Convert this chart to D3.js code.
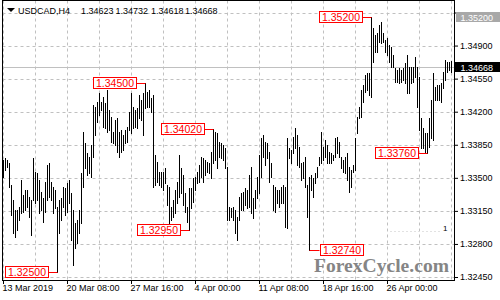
<!DOCTYPE html>
<html>
<head>
<meta charset="utf-8">
<script src="https://cdn.jsdelivr.net/npm/d3@7"></script>
<style>
body { margin: 0; background: #fff; }
svg { display: block; font-family: "Liberation Sans", Arial, sans-serif; }
</style>
</head>
<body>
<svg id="chart" width="500" height="300"></svg>
<script>
// data
const symbol = "USDCAD,H4"
const lastBar = [1.34623, 1.34732, 1.34618, 1.34668]  // O H L C

const highs = [
  1.3369,1.3371,1.3369,1.3366,1.3342,1.3327,1.3316,1.3316,1.3319,1.3348,
  1.3332,1.3337,1.3337,1.3330,1.3327,1.3371,1.3356,1.3355,1.3348,1.3335,
  1.3329,1.3346,1.3364,1.3366,1.3346,1.3340,1.3337,1.3319,1.3327,1.3329,
  1.3340,1.3339,1.3345,1.3348,1.3334,1.3316,1.3302,1.3305,1.3316,1.3355,
  1.3399,1.3387,1.3376,1.3372,1.3385,1.3427,1.3425,1.3430,1.3440,1.3430,
  1.3436,1.3429,1.3443,1.3422,1.3414,1.3399,1.3411,1.3413,1.3399,1.3401,
  1.3395,1.3401,1.3404,1.3420,1.3440,1.3425,1.3422,1.3424,1.3438,1.3432,
  1.3440,1.3450,1.3441,1.3443,1.3435,1.3438,1.3374,1.3367,1.3356,1.3356,
  1.3356,1.3360,1.3342,1.3340,1.3319,1.3327,1.3337,1.3346,1.3374,1.3360,
  1.3353,1.3334,1.3319,1.3339,1.3339,1.3350,1.3351,1.3356,1.3364,1.3372,
  1.3371,1.3369,1.3367,1.3366,1.3377,1.3402,1.3399,1.3397,1.3388,1.3387,
  1.3385,1.3382,1.3361,1.3319,1.3318,1.3319,1.3316,1.3309,1.3330,1.3334,
  1.3335,1.3339,1.3337,1.3353,1.3361,1.3329,1.3337,1.3351,1.3374,1.3392,
  1.3395,1.3388,1.3387,1.3377,1.3366,1.3342,1.3340,1.3337,1.3337,1.3340,
  1.3342,1.3340,1.3392,1.3382,1.3379,1.3393,1.3403,1.3395,1.3383,1.3366,
  1.3367,1.3372,1.3342,1.3351,1.3353,1.3350,1.3355,1.3361,1.3372,1.3399,
  1.3383,1.3390,1.3385,1.3377,1.3376,1.3374,1.3392,1.3393,1.3388,1.3372,
  1.3369,1.3372,1.3376,1.3361,1.3358,1.3364,1.3392,1.3414,1.3425,1.3443,
  1.3448,1.3459,1.3461,1.3461,1.3520,1.3509,1.3501,1.3503,1.3512,1.3515,
  1.3503,1.3496,1.3498,1.3491,1.3489,1.3480,1.3466,1.3464,1.3466,1.3464,
  1.3466,1.3472,1.3480,1.3467,1.3467,1.3467,1.3478,1.3467,1.3457,1.3413,
  1.3403,1.3397,1.3397,1.3413,1.3432,1.3461,1.3446,1.3448,1.3448,1.3450,
  1.3462,1.3475,1.3473,1.3473,1.34732
]
const lows = [
  1.3351,1.3358,1.3361,1.3340,1.3311,1.3292,1.3287,1.3295,1.3305,1.3313,
  1.3314,1.3316,1.3319,1.3309,1.3289,1.3327,1.3323,1.3327,1.3313,1.3316,
  1.3303,1.3314,1.3327,1.3330,1.3327,1.3313,1.3318,1.3250,1.3292,1.3305,
  1.3319,1.3311,1.3314,1.3323,1.3284,1.3258,1.3276,1.3281,1.3292,1.3302,
  1.3340,1.3360,1.3353,1.3355,1.3351,1.3372,1.3395,1.3409,1.3417,1.3422,
  1.3404,1.3403,1.3399,1.3401,1.3388,1.3387,1.3385,1.3377,1.3372,1.3377,
  1.3379,1.3387,1.3388,1.3401,1.3397,1.3403,1.3404,1.3403,1.3413,1.3411,
  1.3395,1.3424,1.3425,1.3425,1.3420,1.3340,1.3342,1.3346,1.3342,1.3340,
  1.3337,1.3345,1.3321,1.3302,1.3305,1.3309,1.3313,1.3323,1.3330,1.3334,
  1.3321,1.3314,1.3303,1.3295,1.3318,1.3324,1.3337,1.3345,1.3346,1.3351,
  1.3346,1.3353,1.3356,1.3355,1.3350,1.3366,1.3369,1.3360,1.3372,1.3371,
  1.3369,1.3360,1.3305,1.3305,1.3309,1.3305,1.3292,1.3284,1.3305,1.3316,
  1.3316,1.3321,1.3318,1.3319,1.3313,1.3307,1.3318,1.3329,1.3334,1.3351,
  1.3372,1.3364,1.3371,1.3346,1.3351,1.3316,1.3314,1.3323,1.3319,1.3323,
  1.3323,1.3298,1.3297,1.3371,1.3366,1.3376,1.3382,1.3364,1.3361,1.3348,
  1.3350,1.3340,1.3309,1.3274,1.3337,1.3330,1.3345,1.3351,1.3364,1.3366,
  1.3369,1.3372,1.3366,1.3366,1.3366,1.3369,1.3372,1.3376,1.3372,1.3360,
  1.3356,1.3355,1.3348,1.3335,1.3340,1.3356,1.3358,1.3397,1.3413,1.3414,
  1.3430,1.3441,1.3443,1.3438,1.3436,1.3473,1.3483,1.3483,1.3494,1.3493,
  1.3494,1.3483,1.3480,1.3473,1.3467,1.3467,1.3451,1.3451,1.3450,1.3451,
  1.3454,1.3450,1.3440,1.3440,1.3450,1.3451,1.3457,1.3425,1.3401,1.3382,
  1.3382,1.3377,1.3376,1.3383,1.3392,1.3390,1.3432,1.3432,1.3432,1.3430,
  1.3445,1.3454,1.3462,1.3464,1.34618
]

const xTickBars = [0, 32, 64, 96, 128, 160, 192]
const xLabels = ["13 Mar 2019", "20 Mar 08:00", "27 Mar 16:00", "4 Apr 00:00",
                 "11 Apr 08:00", "18 Apr 16:00", "26 Apr 00:00"]
const yTicks = [1.3245, 1.3280, 1.3315, 1.3350, 1.3385, 1.3420, 1.3455, 1.3490, 1.3525]

// swing highs / lows marked with red boxes
const markPrices = [1.3250, 1.3450, 1.3295, 1.3402, 1.3274, 1.3520, 1.3376]
const markBars   = [27, 71, 93, 105, 153, 184, 212]
const markSides  = ["left", "left", "left", "left", "right", "left", "left"]

const highlightPrice = 1.3520   // grey tag on the price scale (covers the top tick label)

// chart
const W = 500, H = 300
const plotL = 2.5, plotR = 454.5, plotT = 0.5, plotB = 280.5

let svg = d3.select("#chart")

let x = d3.scaleLinear().domain([0, highs.length - 1]).range([3, 3 + 2 * (highs.length - 1)])
let y = d3.scaleLinear().domain([1.3245, 1.3525]).range([277, 12.5])
const px = i => Math.round(x(i)) + 0.5
const py = p => Math.round(y(p)) + 0.5

svg.append("rect").attr("width", W).attr("height", H).attr("fill", "#fff")

// grid
let grid = svg.append("g").attr("stroke", "#c0c0c0").attr("stroke-dasharray", "3,3")
grid.selectAll("line.v")
    .data(d3.range(0, highs.length, 16))
    .enter().append("line").attr("class", "v")
    .attr("x1", px).attr("x2", px)
    .attr("y1", plotT).attr("y2", plotB)
grid.selectAll("line.h")
    .data(yTicks)
    .enter().append("line").attr("class", "h")
    .attr("x1", plotL).attr("x2", plotR)
    .attr("y1", py).attr("y2", py)

// last price line
svg.append("line")
    .attr("x1", plotL).attr("x2", plotR)
    .attr("y1", py(lastBar[3])).attr("y2", py(lastBar[3]))
    .attr("stroke", "#c0c0c0")

// watermark
svg.append("text")
    .attr("x", 314).attr("y", 272)
    .attr("font-family", "'Liberation Serif', 'DejaVu Serif', serif")
    .attr("font-weight", "bold").attr("font-size", 19)
    .attr("textLength", 135).attr("lengthAdjust", "spacingAndGlyphs")
    .attr("fill", "#858585")
    .text("ForexCycle.com")

// small leftover indicator mark
svg.append("line")
    .attr("x1", 390).attr("x2", 440).attr("y1", 231.5).attr("y2", 231.5)
    .attr("stroke", "#e2e2e2").attr("stroke-dasharray", "2,2")
svg.append("text")
    .attr("x", 443).attr("y", 231).attr("font-size", 8).attr("fill", "#000")
    .text("1")

// bars (high-low lines)
svg.append("g").selectAll("line")
    .data(highs)
    .enter().append("line")
    .attr("x1", (d, i) => px(i)).attr("x2", (d, i) => px(i))
    .attr("y1", d => Math.round(y(d)))
    .attr("y2", (d, i) => Math.round(y(lows[i])) + 1)
    .attr("stroke", "#000")
    .attr("stroke-width", 1)

// swing labels
const boxW = 43, boxH = 11, gap = 10
let marks = svg.append("g").selectAll("g")
    .data(markPrices)
    .enter().append("g")
marks.each(function (p, k) {
  let g = d3.select(this)
  let bx = px(markBars[k])
  let yy = py(p)
  let boxX = markSides[k] === "left" ? bx - gap - boxW : bx + gap
  let edge = markSides[k] === "left" ? boxX + boxW : boxX
  g.append("line")
      .attr("x1", edge).attr("x2", bx).attr("y1", yy).attr("y2", yy)
      .attr("stroke", "#ff0000")
  g.append("rect")
      .attr("x", Math.round(boxX) + 0.5).attr("y", Math.round(yy - 6.5) + 0.5)
      .attr("width", boxW).attr("height", boxH)
      .attr("fill", "#fff").attr("stroke", "#ff0000")
  g.append("text")
      .attr("x", Math.round(boxX) + 0.5 + boxW / 2).attr("y", yy + 3.5)
      .attr("text-anchor", "middle")
      .attr("font-size", 10.5).attr("fill", "#ff0000")
      .text(p.toFixed(5))
})

// frame
svg.append("rect")
    .attr("x", plotL).attr("y", plotT)
    .attr("width", plotR - plotL).attr("height", plotB - plotT)
    .attr("fill", "none").attr("stroke", "#000")

// axes
let yAxis = d3.axisRight(y).tickValues(yTicks)
    .tickFormat(d => d === highlightPrice + 0.0005 ? "" : d3.format(".5f")(d))
    .tickSize(4).tickPadding(2)
svg.append("g")
    .attr("transform", `translate(${plotR - 0.5},0)`)
    .call(yAxis)
    .call(g => g.select(".domain").remove())
    .call(g => g.selectAll("text").attr("font-size", 9).attr("fill", "#000").attr("font-family", null))

let xAxis = d3.axisBottom(x).tickValues(xTickBars).tickFormat((d, i) => xLabels[i]).tickSize(4).tickPadding(1)
svg.append("g")
    .attr("transform", `translate(0,${plotB - 0.5})`)
    .call(xAxis)
    .call(g => g.select(".domain").remove())
    .call(g => g.selectAll("text").attr("text-anchor", "start").attr("x", -1)
        .attr("font-size", 9).attr("fill", "#000").attr("font-family", null))

// price tags on the scale
function tag(price, bg, x0) {
  let yy = y(price)
  svg.append("rect")
      .attr("x", x0).attr("y", Math.round(yy) - 5)
      .attr("width", W - x0).attr("height", 10)
      .attr("fill", bg)
  svg.append("text")
      .attr("x", plotR + 6).attr("y", Math.round(yy) + 3.5)
      .attr("font-size", 9).attr("fill", "#fff")
      .text(price.toFixed(5))
}
tag(highlightPrice, "#a8a8a8", 456)
tag(lastBar[3], "#000", 455)

// title
svg.append("path")
    .attr("d", "M7,8 L15,8 L11,12 Z")
    .attr("fill", "#000")
let title = svg.append("g").attr("font-size", 9).attr("fill", "#000")
title.append("text").attr("x", 18).attr("y", 14).text(symbol)
lastBar.forEach((v, i) => {
  title.append("text").attr("x", [81, 115.5, 151, 185][i]).attr("y", 14).text(v.toFixed(5))
})
</script>
</body>
</html>
